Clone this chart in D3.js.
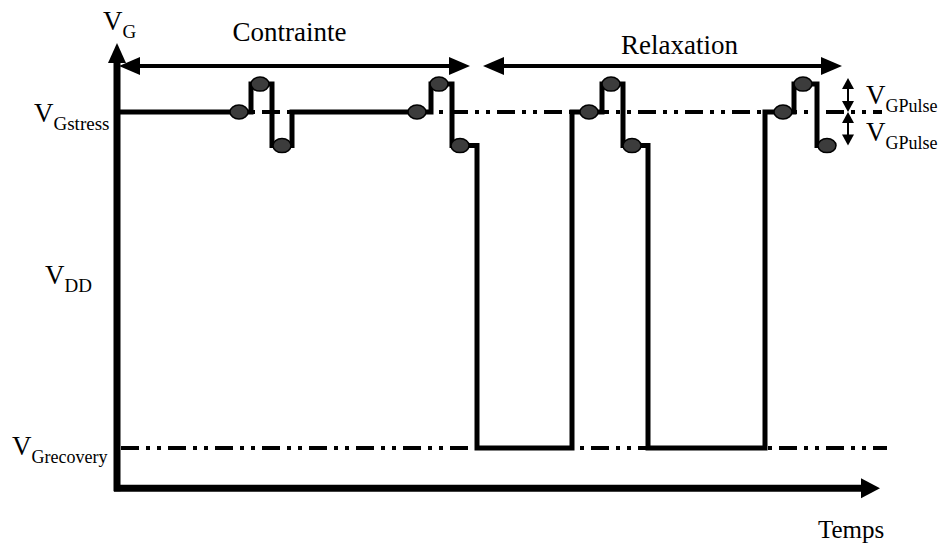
<!DOCTYPE html>
<html lang="fr">
<head>
<meta charset="utf-8" />
<title>Contrainte / Relaxation</title>
<style>
  * {margin: 0; padding: 0;}
  body {background: #fff;}
  svg text {font-family: "Times New Roman", "Liberation Serif", "DejaVu Serif", serif; fill: #000;}
</style>
</head>
<body>
<div id="viz"></div>
<script src="https://cdn.jsdelivr.net/npm/d3@7"></script>
<script>
// levels (normalised): recovery = 0, stress = 1, pulse up / down around stress
var levelNames  = ["recovery", "stress", "pulseHigh", "pulseLow"];
var levelValues = [0, 1, 1.083, 0.9];

// gate voltage waveform: time of each step edge and level held after it
var edgeTime  = [0, 134, 155, 175, 314, 335, 360, 455, 485, 506, 531, 648, 677, 700, 719];
var edgeLevel = [1, 1.083, 0.9, 1, 1.083, 0.9, 0, 1, 1.083, 0.9, 0, 1, 1.083, 0.9, 0.9];

// measurement points (dots) on the waveform
var dotTime  = [122, 143, 165, 300, 322, 343, 472, 494, 515, 666, 686, 710];
var dotLevel = [1, 1.083, 0.9, 1, 1.083, 0.9, 1, 1.083, 0.9, 1, 1.083, 0.9];

// phases shown with double arrows on top
var phaseNames = ["Contrainte", "Relaxation"];
var phaseStart = [2, 366];
var phaseEnd   = [353, 725];

var w = 949, h = 545;
var x = d3.scaleLinear().domain([0, 770]).range([117, 887]);
var y = d3.scaleLinear().domain([0, 1]).range([448, 112]);

var svg = d3.select("#viz").append("svg").attr("width", w).attr("height", h);

// arrowhead helper (filled triangle, tip at (tx,ty), pointing in direction dir)
function head(tx, ty, dir, len, half) {
    var pts;
    if (dir == "up")    pts = [[tx, ty], [tx - half, ty + len], [tx + half, ty + len]];
    if (dir == "down")  pts = [[tx, ty], [tx - half, ty - len], [tx + half, ty - len]];
    if (dir == "left")  pts = [[tx, ty], [tx + len, ty - half], [tx + len, ty + half]];
    if (dir == "right") pts = [[tx, ty], [tx - len, ty - half], [tx - len, ty + half]];
    svg.append("path").attr("d", "M" + pts.join("L") + "Z").style("fill", "black");
}

// reference levels, dash-dot-dot
[0, 1].forEach(function(v) {
    svg.append("line")
        .attr("x1", x(4)).attr("x2", x(v == 0 ? 770 : 765))
        .attr("y1", y(v)).attr("y2", y(v))
        .style("stroke", "black").style("stroke-width", 4)
        .style("stroke-dasharray", "18,7,4,7,4,7");
});

// axes
var axisY = y(-0.12);
svg.append("line").attr("x1", x(0)).attr("x2", x(0)).attr("y1", axisY + 3).attr("y2", 60)
    .style("stroke", "black").style("stroke-width", 7);
head(x(0), 43, "up", 20, 9);
svg.append("line").attr("x1", x(0) - 3).attr("x2", 862).attr("y1", axisY).attr("y2", axisY)
    .style("stroke", "black").style("stroke-width", 7);
head(880, axisY, "right", 19, 10);

// waveform
var line = d3.line()
    .x(function(d) { return x(d[0]); })
    .y(function(d) { return y(d[1]); })
    .curve(d3.curveStepAfter);
svg.append("path")
    .datum(d3.zip(edgeTime, edgeLevel))
    .attr("d", line)
    .style("fill", "none").style("stroke", "black")
    .style("stroke-width", 5).style("stroke-linejoin", "miter");

// dots
svg.selectAll("ellipse.dot")
    .data(d3.zip(dotTime, dotLevel))
    .enter().append("ellipse")
    .attr("class", "dot")
    .attr("cx", function(d) { return x(d[0]); })
    .attr("cy", function(d) { return y(d[1]); })
    .attr("rx", 9).attr("ry", 7)
    .style("fill", "#3c3c3c").style("stroke", "black").style("stroke-width", 1.5);

// phase arrows
var phaseY = 66;
phaseNames.forEach(function(name, i) {
    var a = x(phaseStart[i]), b = x(phaseEnd[i]);
    svg.append("line").attr("x1", a + 15).attr("x2", b - 15).attr("y1", phaseY).attr("y2", phaseY)
        .style("stroke", "black").style("stroke-width", 4);
    head(a, phaseY, "left", 21, 9);
    head(b, phaseY, "right", 21, 9);
    svg.append("text").attr("x", (a + b) / 2 - (i == 0 ? 5 : -17)).attr("y", i == 0 ? 41 : 54)
        .attr("text-anchor", "middle").style("font-size", "27px").text(name);
});

// pulse amplitude arrows
var px = x(731);
[[y(1.083) - 6, y(1)], [y(1), y(0.9)]].forEach(function(seg) {
    svg.append("line").attr("x1", px).attr("x2", px).attr("y1", seg[0] + 6).attr("y2", seg[1] - 6)
        .style("stroke", "black").style("stroke-width", 2);
    head(px, seg[0], "up", 11, 6);
    head(px, seg[1], "down", 11, 6);
});

// labels: V with subscript
function vlabel(xp, yp, sub, subSize) {
    var t = svg.append("text").attr("x", xp).attr("y", yp).style("font-size", "27px");
    t.append("tspan").text("V");
    t.append("tspan").attr("dy", 8).style("font-size", subSize + "px").text(sub);
}
vlabel(103, 30, "G", 19);
vlabel(34, 122, "Gstress", 19);
vlabel(45, 284, "DD", 19);
vlabel(12, 455, "Grecovery", 18);
vlabel(866, 104, "GPulse", 18);
vlabel(866, 141, "GPulse", 18);

svg.append("text").attr("x", 818).attr("y", 538).style("font-size", "25px").text("Temps");
</script>
</body>
</html>
